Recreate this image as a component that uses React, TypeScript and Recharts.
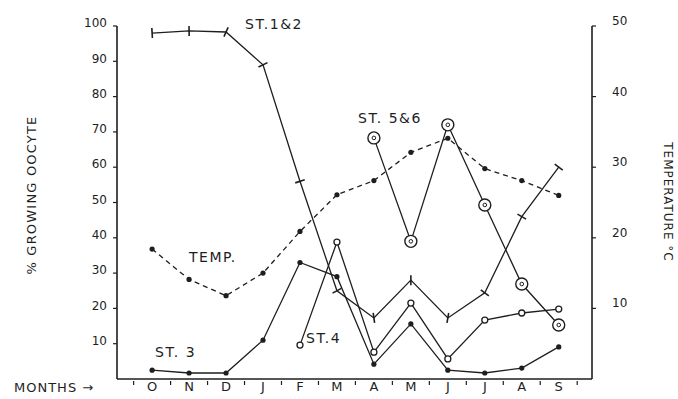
import React from 'react';
import { LineChart, Line, XAxis, YAxis } from 'recharts';

// months of the sampling year, Oct -> Sep
const months = ['O', 'N', 'D', 'J', 'F', 'M', 'A', 'M', 'J', 'J', 'A', 'S'];

// % growing oocyte per stage (left axis)
const st12 = [98, 98.6, 98.3, 89, 56, 25, 17.3, 28, 17.3, 24.4, 46, 60];
const st3 = [2.5, 1.7, 1.7, 11, 33, 29, 4.2, 15.6, 2.5, 1.7, 3.1, 9.1];
const st4 = [null, null, null, null, 9.6, 38.8, 7.6, 21.5, 5.7, 16.7, 18.7, 19.8];
const st56 = [null, null, null, null, null, null, 68.3, 39, 72, 49.3, 26.9, 15.3];

// water temperature, deg C (right axis)
const temp = [18.4, 14.1, 11.8, 15.0, 20.9, 26.1, 28.1, 32.1, 34.1, 29.8, 28.1, 26.0];

const leftTicks = [10, 20, 30, 40, 50, 60, 70, 80, 90, 100];
const rightTicks = [10, 20, 30, 40, 50];
const xTicks = [-0.5, 0, 0.5, 1, 1.5, 2, 2.5, 3, 3.5, 4, 4.5, 5, 5.5, 6, 6.5, 7, 7.5, 8, 8.5, 9, 9.5, 10, 10.5, 11, 11.5];

const data = months.map((m, i) => ({
  idx: i,
  month: m,
  st12: st12[i],
  st3: st3[i],
  st4: st4[i],
  st56: st56[i],
  temp: temp[i],
}));

const INK = '#1e1e1e';
const FONT = '"DejaVu Sans", sans-serif';

// short bar drawn across the line (ST.1&2 marker)
const BarMark = (props: any) => {
  const { cx, cy, points, index } = props;
  if (cx == null || cy == null) return <g key={`b${index}`} />;
  let dx = 1;
  let dy = 0;
  if (points && points.length) {
    const prev = points[index - 1] || points[index];
    const next = points[index + 1] || points[index];
    dx = next.x - prev.x;
    dy = next.y - prev.y;
    const len = Math.hypot(dx, dy) || 1;
    dx /= len;
    dy /= len;
  }
  const h = 5;
  // perpendicular direction
  const px = -dy * h;
  const py = dx * h;
  return (
    <line key={`b${index}`} x1={cx - px} y1={cy - py} x2={cx + px} y2={cy + py} stroke={INK} strokeWidth={1.6} />
  );
};

const SmallDot = (props: any) => {
  const { cx, cy, index } = props;
  if (cx == null || cy == null) return <g key={`d${index}`} />;
  return <circle key={`d${index}`} cx={cx} cy={cy} r={2.6} fill={INK} stroke="none" />;
};

const OpenDot = (props: any) => {
  const { cx, cy, index } = props;
  if (cx == null || cy == null) return <g key={`o${index}`} />;
  return <circle key={`o${index}`} cx={cx} cy={cy} r={3} fill="#fff" stroke={INK} strokeWidth={1.3} />;
};

const DoubleCircle = (props: any) => {
  const { cx, cy, index } = props;
  if (cx == null || cy == null) return <g key={`c${index}`} />;
  return (
    <g key={`c${index}`}>
      <circle cx={cx} cy={cy} r={6} fill="#fff" stroke={INK} strokeWidth={1.4} />
      <circle cx={cx} cy={cy} r={1.8} fill="none" stroke={INK} strokeWidth={1} />
    </g>
  );
};

const MonthTick = (props: any) => {
  const { x, y, payload } = props;
  const v = payload.value;
  if (Number.isInteger(v)) {
    return (
      <text x={x} y={y + 12} textAnchor="middle" fontFamily={FONT} fontSize={13} fill={INK}>
        {months[v]}
      </text>
    );
  }
  return <line x1={x} y1={y + 2} x2={x} y2={y + 6} stroke={INK} strokeWidth={1.2} />;
};

// right axis labels: placed from the axis line itself, well clear of it
const RIGHT_AXIS_X = 592;
const TempTick = (props: any) => {
  const { y, payload } = props;
  return (
    <text x={RIGHT_AXIS_X + 20} y={y - 1} textAnchor="start" fontFamily={FONT} fontSize={12} fill={INK}>
      {payload.value}
    </text>
  );
};

const labelStyle = { fontFamily: FONT, fontSize: 14, fill: INK, letterSpacing: 1.5 };

export default function App() {
  return (
    <div style={{ position: 'absolute', left: 0, top: 0, width: 678, height: 399, background: '#fff' }}>
      <LineChart width={678} height={399} data={data} margin={{ top: 26, right: 0, bottom: 0, left: 0 }}>
        <XAxis
          dataKey="idx"
          type="number"
          domain={[-0.95, 11.9]}
          ticks={xTicks}
          interval={0}
          tick={<MonthTick />}
          tickLine={false}
          tickSize={0}
          tickMargin={0}
          height={20}
          axisLine={{ stroke: INK, strokeWidth: 1.6 }}
          allowDataOverflow
        />
        <YAxis
          yAxisId="left"
          orientation="left"
          width={117}
          domain={[0, 100]}
          ticks={leftTicks}
          interval={0}
          tickSize={4}
          tickLine={{ stroke: INK, strokeWidth: 1.2 }}
          axisLine={{ stroke: INK, strokeWidth: 1.6 }}
          tick={{ fill: INK, fontSize: 12, fontFamily: FONT, dy: -3 }}
          tickMargin={6}
        />
        <YAxis
          yAxisId="right"
          orientation="right"
          width={86}
          domain={[0, 50]}
          ticks={rightTicks}
          interval={0}
          tickSize={4}
          tickLine={{ stroke: INK, strokeWidth: 1.2 }}
          axisLine={{ stroke: INK, strokeWidth: 1.6 }}
          tick={TempTick}
        />
        <Line
          yAxisId="right"
          dataKey="temp"
          type="linear"
          stroke={INK}
          strokeWidth={1.3}
          strokeDasharray="5 4"
          dot={SmallDot}
          activeDot={false}
          isAnimationActive={false}
        />
        <Line
          yAxisId="left"
          dataKey="st12"
          type="linear"
          stroke={INK}
          strokeWidth={1.3}
          dot={BarMark}
          activeDot={false}
          isAnimationActive={false}
        />
        <Line
          yAxisId="left"
          dataKey="st3"
          type="linear"
          stroke={INK}
          strokeWidth={1.3}
          dot={SmallDot}
          activeDot={false}
          isAnimationActive={false}
        />
        <Line
          yAxisId="left"
          dataKey="st4"
          type="linear"
          stroke={INK}
          strokeWidth={1.3}
          dot={OpenDot}
          activeDot={false}
          isAnimationActive={false}
        />
        <Line
          yAxisId="left"
          dataKey="st56"
          type="linear"
          stroke={INK}
          strokeWidth={1.3}
          dot={DoubleCircle}
          activeDot={false}
          isAnimationActive={false}
        />
        {/* annotations */}
        <text x={245} y={29} {...labelStyle}>ST.1&amp;2</text>
        <text x={358} y={123} {...labelStyle}>ST. 5&amp;6</text>
        <text x={189} y={262} {...labelStyle}>TEMP.</text>
        <text x={155} y={357} {...labelStyle}>ST. 3</text>
        <text x={306} y={343} {...labelStyle}>ST.4</text>
        <text x={14} y={392} fontFamily={FONT} fontSize={13} fill={INK} letterSpacing={1}>MONTHS →</text>
        <text
          x={36}
          y={195}
          transform="rotate(-90 36 195)"
          textAnchor="middle"
          fontFamily={FONT}
          fontSize={13}
          fill={INK}
          letterSpacing={1.2}
        >
          % GROWING OOCYTE
        </text>
        <text
          x={664}
          y={202}
          transform="rotate(90 664 202)"
          textAnchor="middle"
          fontFamily={FONT}
          fontSize={12}
          fill={INK}
          letterSpacing={1}
        >
          TEMPERATURE °C
        </text>
      </LineChart>
    </div>
  );
}
